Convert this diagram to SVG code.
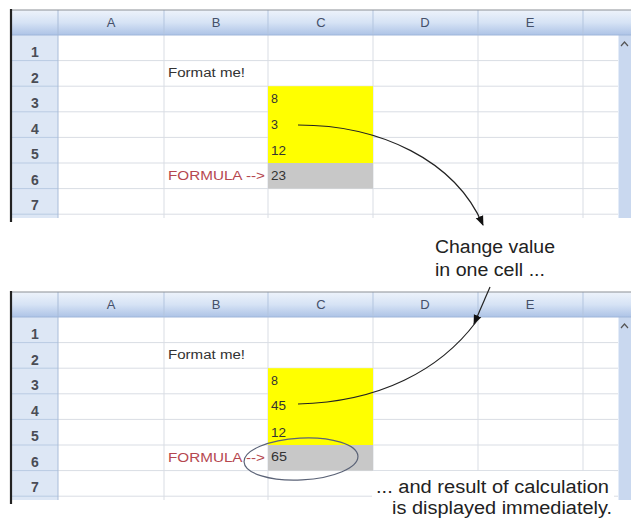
<svg xmlns="http://www.w3.org/2000/svg" xmlns:xlink="http://www.w3.org/1999/xlink" width="631" height="518" viewBox="0 0 631 518">
<style>
.grid{stroke:#d9dde4;stroke-width:1;fill:none}
.rgrid{stroke:#b9cbe3;stroke-width:1;fill:none}
.hsep{stroke:#b3c5df;stroke-width:1}
.col{font-family:"Liberation Sans",Arial,sans-serif;font-size:13px;fill:#44506a;text-anchor:middle}
.row{font-family:"Liberation Sans",Arial,sans-serif;font-size:14px;font-weight:bold;fill:#4a4d55;text-anchor:middle}
.cell{font-family:"Liberation Sans",Arial,sans-serif;font-size:12.5px;fill:#333}
.red{fill:#b5474f}
.note{font-family:"Liberation Sans",Arial,sans-serif;font-size:18px;fill:#222}
.conn{fill:none;stroke:#222;stroke-width:1.2}
</style>
<defs>
<linearGradient id="hdr" x1="0" y1="0" x2="0" y2="1">
<stop offset="0" stop-color="#eef3fb"/>
<stop offset="0.5" stop-color="#d6e3f5"/>
<stop offset="1" stop-color="#adc3e6"/>
</linearGradient>
<marker id="ah" markerWidth="10" markerHeight="10" refX="9" refY="5" orient="auto" markerUnits="userSpaceOnUse">
<path d="M0,1 L10,5 L0,9 Z" fill="#111"/>
</marker>
<g id="sheet">
<rect x="11" y="10" width="620" height="25" fill="url(#hdr)"/>
<rect x="11" y="35" width="47" height="183" fill="#dde7f5"/>
<rect x="58" y="35" width="560" height="183" fill="#fff"/>
<rect x="618" y="35" width="13" height="183" fill="#c9d8ef"/>
<line x1="618.5" y1="35" x2="618.5" y2="218" stroke="#e4ecf8"/>
<path class="rgrid" d="M11,60.6H58M11,86.2H58M11,111.8H58M11,137.4H58M11,163H58M11,188.6H58M11,214.2H58"/>
<path class="grid" d="M58,60.6H618M58,86.2H618M58,111.8H618M58,137.4H618M58,163H618M58,188.6H618M58,214.2H618"/>
<path class="grid" d="M164,35V218M268,35V218M373,35V218M478,35V218M583,35V218"/>
<path class="hsep" d="M164,10V35M268,10V35M373,10V35M478,10V35M583,10V35"/>
<rect x="268" y="86.2" width="105" height="76.8" fill="#ffff00"/>
<rect x="268" y="163" width="105" height="25.6" fill="#c8c8c8"/>
<line x1="58" y1="10" x2="58" y2="218" stroke="#a9bcd8"/>
<line x1="11" y1="35" x2="631" y2="35" stroke="#9fb6da"/>
<line x1="11" y1="10" x2="631" y2="10" stroke="#8c8f95" stroke-width="1.2"/>
<line x1="11" y1="9" x2="11" y2="222" stroke="#222" stroke-width="2.2"/>
<path d="M621,46 L624.5,42 L628,46" fill="none" stroke="#555" stroke-width="1.2"/>
<text class="col" x="111" y="27">A</text>
<text class="col" x="216" y="27">B</text>
<text class="col" x="321" y="27">C</text>
<text class="col" x="425" y="27">D</text>
<text class="col" x="530" y="27">E</text>
<text class="row" x="35" y="57">1</text>
<text class="row" x="35" y="83">2</text>
<text class="row" x="35" y="108">3</text>
<text class="row" x="35" y="134">4</text>
<text class="row" x="35" y="159">5</text>
<text class="row" x="35" y="185">6</text>
<text class="row" x="35" y="210">7</text>
<text class="cell" x="168" y="77" textLength="77" lengthAdjust="spacingAndGlyphs">Format me!</text>
<text class="cell red" x="168" y="180" textLength="97" lengthAdjust="spacingAndGlyphs">FORMULA --&gt;</text>
<text class="cell" x="271" y="103">8</text>
<text class="cell" x="271" y="155" textLength="15" lengthAdjust="spacingAndGlyphs">12</text>
</g>
</defs>
<rect x="0" y="0" width="631" height="518" fill="#fff"/>
<g id="sheet-before">
<use xlink:href="#sheet" href="#sheet"/>
<text class="cell" x="271" y="129">3</text>
<text class="cell" x="271" y="180" textLength="15" lengthAdjust="spacingAndGlyphs">23</text>
</g>
<g id="sheet-after">
<use xlink:href="#sheet" href="#sheet" transform="translate(0,282)"/>
<text class="cell" x="271" y="410" textLength="15" lengthAdjust="spacingAndGlyphs">45</text>
<text class="cell" x="271" y="461" textLength="16" lengthAdjust="spacingAndGlyphs">65</text>
<ellipse id="highlight" cx="301" cy="459" rx="57" ry="21" transform="rotate(-3 301 459)" fill="none" stroke="#5b6377" stroke-width="1.2"/>
</g>
<g id="note-change">
<text class="note" x="435" y="253" textLength="120" lengthAdjust="spacingAndGlyphs">Change value</text>
<text class="note" x="435" y="276" textLength="110" lengthAdjust="spacingAndGlyphs">in one cell ...</text>
</g>
<g id="note-result">
<rect x="372" y="471" width="242" height="47" fill="#fff"/>
<text class="note" x="609" y="493" text-anchor="end" textLength="233" lengthAdjust="spacingAndGlyphs">... and result of calculation</text>
<text class="note" x="612" y="514" text-anchor="end" textLength="220" lengthAdjust="spacingAndGlyphs">is displayed immediately.</text>
</g>
<g id="connectors">
<path class="conn" d="M298,125 C380,125 455,160 483,225" marker-end="url(#ah)"/>
<path class="conn" d="M490,287 L474,324" marker-end="url(#ah)"/>
<path class="conn" d="M298,404 C380,402 440,370 476,322"/>
</g>
</svg>
